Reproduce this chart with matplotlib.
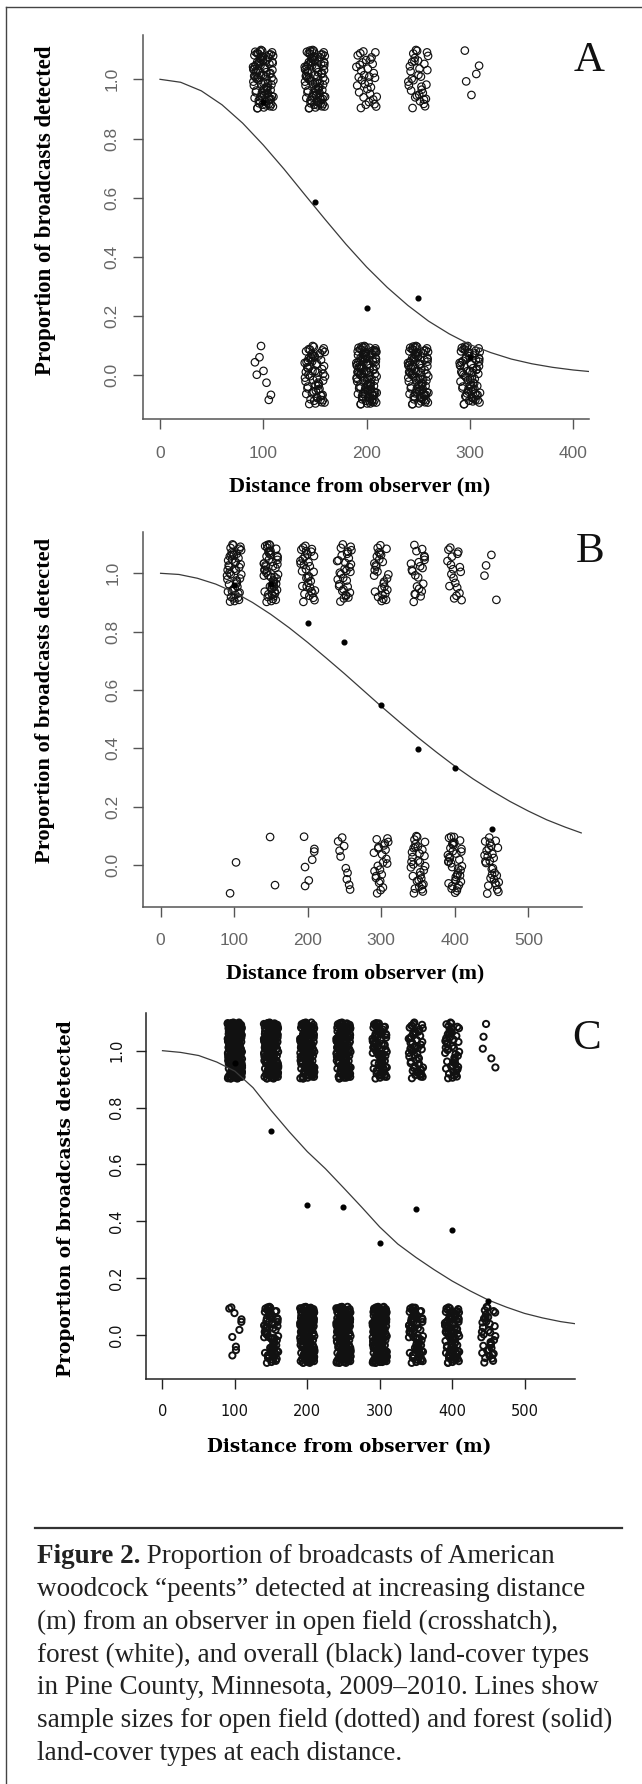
import matplotlib
matplotlib.use('Agg')
import matplotlib.pyplot as plt
from matplotlib.lines import Line2D

# ---- data ----
# panel A
A_DIST = [100, 150, 200, 250, 300]
A_DET = [95, 95, 34, 34, 5]        # detected broadcasts (plotted at 1)
A_MISS = [8, 67, 116, 97, 76]      # missed broadcasts (plotted at 0)
A_PROP = [0.922, 0.586, 0.227, 0.260, 0.062]
A_CX = [0, 20, 40, 60, 80, 100, 120, 140, 160, 180, 200, 220, 240, 260, 280, 300, 320, 340, 360, 380, 400, 415]
A_CY = [1.0, 0.990, 0.961, 0.914, 0.852, 0.778, 0.697, 0.611, 0.526, 0.443, 0.366, 0.297, 0.236,
        0.183, 0.140, 0.104, 0.077, 0.055, 0.039, 0.027, 0.018, 0.013]

# panel B
B_DIST = [100, 150, 200, 250, 300, 350, 400, 450]
B_DET = [48, 55, 34, 32, 29, 22, 19, 4]
B_MISS = [2, 2, 7, 10, 24, 33, 38, 29]
B_PROP = [0.96, 0.965, 0.831, 0.764, 0.547, 0.399, 0.334, 0.122]
B_CX = [0, 25, 50, 75, 100, 125, 150, 175, 200, 225, 250, 275, 300, 325, 350, 375, 400, 425, 450, 475, 500, 525, 550, 572]
B_CY = [1.0, 0.996, 0.983, 0.963, 0.935, 0.900, 0.859, 0.813, 0.763, 0.710, 0.656, 0.600, 0.544,
        0.490, 0.437, 0.387, 0.339, 0.295, 0.255, 0.218, 0.185, 0.155, 0.130, 0.110]

# panel C
C_DIST = [100, 150, 200, 250, 300, 350, 400, 450]
C_DET = [230, 180, 140, 135, 80, 55, 48, 5]
C_MISS = [10, 70, 166, 164, 168, 69, 82, 36]
C_PROP = [0.958, 0.719, 0.457, 0.451, 0.322, 0.442, 0.369, 0.121]
C_CX = [0, 25, 50, 75, 100, 125, 150, 175, 200, 225, 250, 275, 300, 325, 350, 375, 400, 425, 450, 475, 500, 525, 550, 569]
C_CY = [1.0, 0.994, 0.983, 0.960, 0.928, 0.870, 0.790, 0.715, 0.645, 0.585, 0.518, 0.450, 0.380,
        0.320, 0.273, 0.230, 0.190, 0.155, 0.123, 0.098, 0.076, 0.060, 0.047, 0.040]

Y_TICKS = [0.0, 0.2, 0.4, 0.6, 0.8, 1.0]

# jitter offsets (fractions of the jitter amount), as scattered in the figure
JX = [0.62, -0.35, 0.91, -0.78, 0.14, -0.06, 0.47, -0.93, 0.28, -0.51,
      0.83, -0.19, 0.05, -0.67, 0.39, 0.72, -0.84, -0.27, 0.97, -0.42,
      0.21, -0.88, 0.56, -0.11, 0.34, -0.59, 0.79, -0.33, 0.09, -0.74,
      0.66, -0.02, -0.96, 0.44, -0.48, 0.17, 0.88, -0.63, 0.31, -0.22,
      0.74, -0.81, 0.02, 0.53, -0.37, -0.69, 0.95, -0.14, 0.26, -0.55,
      0.59, -0.91, 0.12, -0.29, 0.85, -0.46, 0.37, -0.08, 0.69, -0.72,
      0.48, -0.17, -0.99, 0.23, 0.81, -0.61, 0.07, -0.39, 0.93, -0.24,
      0.33, -0.86, 0.64, -0.52, 0.19, -0.04, 0.77, -0.66, 0.42, -0.31,
      0.98, -0.76, 0.11, -0.44, 0.57, -0.13, 0.29, -0.58, 0.86, -0.95,
      0.03, 0.51, -0.21, 0.71, -0.83, 0.36, -0.49, 0.15, 0.89, -0.36]
JY = [0.18, -0.72, 0.55, 0.93, -0.41, 0.77, -0.12, 0.34, -0.88, 0.06,
      -0.57, 0.68, -0.95, 0.23, -0.29, 0.84, -0.63, 0.47, -0.04, -0.81,
      0.39, 0.11, -0.69, 0.96, -0.35, 0.58, -0.18, 0.72, -0.52, 0.27,
      -0.91, 0.63, -0.08, -0.46, 0.87, -0.74, 0.31, 0.02, -0.25, 0.99,
      -0.66, 0.44, 0.15, -0.83, 0.61, -0.38, 0.79, -0.55, 0.09, -0.97,
      0.52, -0.21, 0.36, -0.61, 0.91, -0.03, 0.67, -0.86, 0.21, -0.44,
      0.74, -0.16, 0.42, -0.77, 0.05, 0.88, -0.33, 0.57, -0.92, 0.14,
      -0.49, 0.81, -0.68, 0.29, -0.11, 0.65, -0.84, 0.49, -0.27, 0.94,
      -0.59, 0.07, 0.38, -0.71, 0.83, -0.45, 0.24, -0.98, 0.59, 0.33,
      -0.14, -0.62, 0.76, -0.36, 0.12, -0.79, 0.97, -0.53, 0.46, -0.07]
X_JIT = 10     # m
Y_JIT = 0.1

CAPTION = [
    "woodcock \u201cpeents\u201d detected at increasing distance",
    "(m) from an observer in open field (crosshatch),",
    "forest (white), and overall (black) land-cover types",
    "in Pine County, Minnesota, 2009\u20132010. Lines show",
    "sample sizes for open field (dotted) and forest (solid)",
    "land-cover types at each distance.",
]

W, H = 642, 1784


def jittered(dist, det, miss, start):
    n = len(JX)
    xs, ys = [], []
    c = start
    for d, n1, n0 in zip(dist, det, miss):
        for v, cnt in ((1, n1), (0, n0)):
            base = (c * 37) % n
            for i in range(cnt):
                k = i // n
                xs.append(d + X_JIT * JX[(base + i) % n])
                ys.append(v + Y_JIT * JY[(base + i + 17 * k) % n])
            c += 1
    return xs, ys


def panel(fig, px, xlim, ylim, xmax_tick, dist, det, miss, prop, cx, cy, st):
    # px = (left, top, right, bottom) in pixels
    l, t, r, b = px
    ax = fig.add_axes([l / W, 1 - b / H, (r - l) / W, (b - t) / H])
    ax.set_xlim(xlim)
    ax.set_ylim(ylim)
    for s in ('top', 'right'):
        ax.spines[s].set_visible(False)
    for s in ('left', 'bottom'):
        ax.spines[s].set_color(st['axc'])
        ax.spines[s].set_linewidth(1.1)

    xs, ys = jittered(dist, det, miss, st['start'])
    ax.scatter(xs, ys, s=st['ms'], facecolors='none', edgecolors='#111111',
               linewidths=st['mlw'], zorder=2)
    ax.plot(cx, cy, color='#3a3a3a', lw=0.9, zorder=3)
    ax.plot(dist, prop, 'o', color='black', ms=3.4, zorder=4)

    ax.set_xticks(range(0, xmax_tick + 1, 100))
    ax.set_xticklabels([str(v) for v in range(0, xmax_tick + 1, 100)],
                       fontfamily=st['tf'], fontsize=st['ts'], color=st['tc'])
    ax.set_yticks(Y_TICKS)
    ax.set_yticklabels(['%.1f' % v for v in Y_TICKS], rotation=90, va='center',
                       fontfamily=st['tf'], fontsize=st['ts'], color=st['tc'])
    ax.tick_params(axis='both', direction='out', length=7.2, width=1.0, color=st['axc'])
    ax.tick_params(axis='x', pad=st['xpad'])
    ax.tick_params(axis='y', pad=st['ypad'])

    ax.set_xlabel('Distance from observer (m)', fontfamily=st['lf'], fontweight='bold',
                  fontsize=st['xls'], va='center')
    ax.xaxis.set_label_coords(*st['xlc'])
    ax.set_ylabel('Proportion of broadcasts detected', fontfamily=st['lf'], fontweight='bold',
                  fontsize=st['yls'], va='center')
    ax.yaxis.set_label_coords(*st['ylc'])

    fig.text(st['tag_xy'][0] / W, 1 - st['tag_xy'][1] / H, st['tag'], fontfamily='Liberation Serif',
             fontsize=31, ha='center', va='baseline', color='#111')
    return ax


fig = plt.figure(figsize=(W / 100, H / 100), dpi=100)
fig.patch.set_facecolor('white')

style_a = dict(start=0, ms=29, mlw=0.85, axc='#555555', tf='Liberation Sans', ts=12.5, tc='#666666',
               xpad=12.0, ypad=10.0, lf='Liberation Serif', xls=16, yls=16.5,
               xlc=(0.4859, -0.1754), ylc=(-0.2204, 0.5446), tag='A', tag_xy=(589, 70.7))
style_b = dict(start=3, ms=29, mlw=0.85, axc='#555555', tf='Liberation Sans', ts=12.5, tc='#666666',
               xpad=11.0, ypad=9.0, lf='Liberation Serif', xls=15.8, yls=16.2,
               xlc=(0.4829, -0.1757), ylc=(-0.2242, 0.5519), tag='B', tag_xy=(590, 561.7))
style_c = dict(start=7, ms=20, mlw=1.4, axc='#222222', tf='DejaVu Sans', ts=10.5, tc='#111111',
               xpad=11.0, ypad=8.6, lf='DejaVu Serif', xls=13.2, yls=13.4,
               xlc=(0.4731, -0.1851), ylc=(-0.1868, 0.4922), tag='C', tag_xy=(586.7, 1049))

panel(fig, (143.3, 35, 589.3, 419.3), (-16.17, 415.6), (-0.1486, 1.1497), 400,
      A_DIST, A_DET, A_MISS, A_PROP, A_CX, A_CY, style_a)
panel(fig, (143.3, 531.7, 581.7, 907.3), (-23.5, 572.6), (-0.145, 1.1426), 500,
      B_DIST, B_DET, B_MISS, B_PROP, B_CX, B_CY, style_b)
panel(fig, (146.1, 1013.3, 575, 1379), (-22.65, 569.75), (-0.1548, 1.1315), 500,
      C_DIST, C_DET, C_MISS, C_PROP, C_CX, C_CY, style_c)

# frame around the figure (left and top edges) and caption rule
fig.add_artist(Line2D([6 / W, 6 / W], [0, 1 - 6.7 / H], color='#444444', lw=1.0))
fig.add_artist(Line2D([6 / W, 1], [1 - 6.7 / H, 1 - 6.7 / H], color='#444444', lw=1.0))
fig.add_artist(Line2D([34.8 / W, 622 / W], [1 - 1528.3 / H, 1 - 1528.3 / H], color='#333333', lw=1.6))

# caption
cap_x = 36.8
base0 = 1563.3
step = 32.8
cap_fs = 19.5
t1 = fig.text(cap_x / W, 1 - base0 / H, 'Figure 2.', fontfamily='Liberation Serif', fontweight='bold',
              fontsize=cap_fs, va='baseline', color='#222222')
fig.canvas.draw()
bb = t1.get_window_extent()
fig.text(bb.x1 / W, 1 - base0 / H, ' Proportion of broadcasts of American', fontfamily='Liberation Serif',
         fontsize=cap_fs, va='baseline', color='#222222')
for k, line in enumerate(CAPTION):
    fig.text(cap_x / W, 1 - (base0 + step * (k + 1)) / H, line, fontfamily='Liberation Serif',
             fontsize=cap_fs, va='baseline', color='#222222')

fig.savefig('out.png', dpi=100, facecolor='white')
